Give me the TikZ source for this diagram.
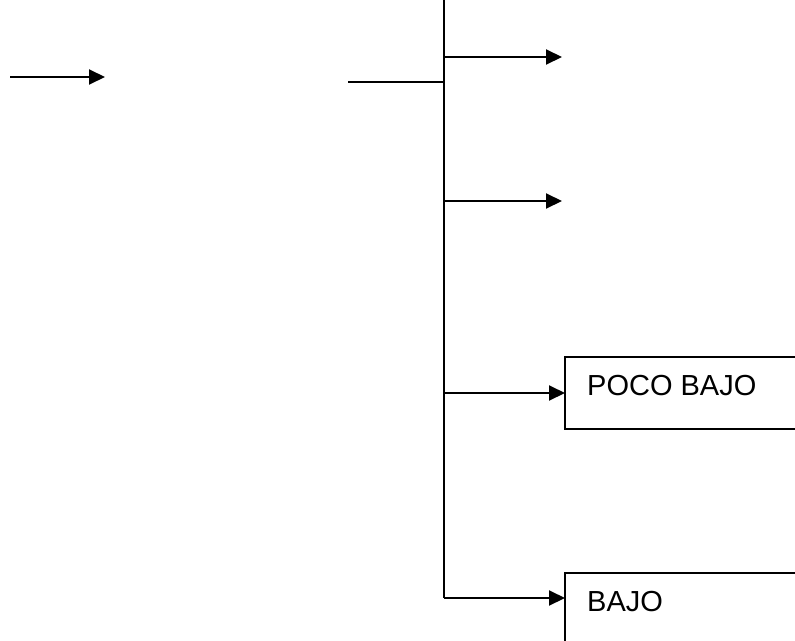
\documentclass[tikz,border=0pt]{standalone}
\usepackage{fontspec}
\setmainfont{Liberation Sans}
\usetikzlibrary{arrows.meta}
\begin{document}
\begin{tikzpicture}[x=1pt,y=-1pt,
  line/.style={line width=2pt},
  branch/.style={line width=2pt,-{Triangle[length=16pt,width=15pt]}},
  box/.style={draw,line width=1.6pt,anchor=north west,minimum width=300pt,inner sep=0pt,outer sep=0pt},
  label/.style={anchor=base west,font=\fontsize{29}{34}\selectfont,inner sep=0pt}]
\useasboundingbox (0,0) rectangle (795,640);
\clip (0,0) rectangle (795,640);

% result boxes
\node[box,minimum height=72pt] (poco) at (565,357) {};
\node[box,minimum height=120pt] (bajo) at (565,573) {};
\node[label] (pocotext) at (587,395) {POCO BAJO};
\node[label] (bajotext) at (587,611) {BAJO};

% junction points
\coordinate (top) at (444,0);
\coordinate (bot) at (444,598);
\coordinate (in) at (348,82);
\coordinate (j1) at (444,57);
\coordinate (e1) at (562,57);
\coordinate (j2) at (444,201);
\coordinate (e2) at (562,201);
\coordinate (j3) at (444,393);
\coordinate (a0) at (10,77);
\coordinate (a1) at (105,77);

% input arrow
\draw[branch] (a0) -- (a1);

% trunk and feed line
\draw[line] (top) -- (bot);
\draw[line] (in) -- (in -| top);

% branches
\draw[branch] (j1) -- (e1);
\draw[branch] (j2) -- (e2);
\draw[branch] (j3) -- (j3 -| poco.west);
\draw[branch] (bot) -- (bot -| bajo.west);
\end{tikzpicture}
\end{document}
